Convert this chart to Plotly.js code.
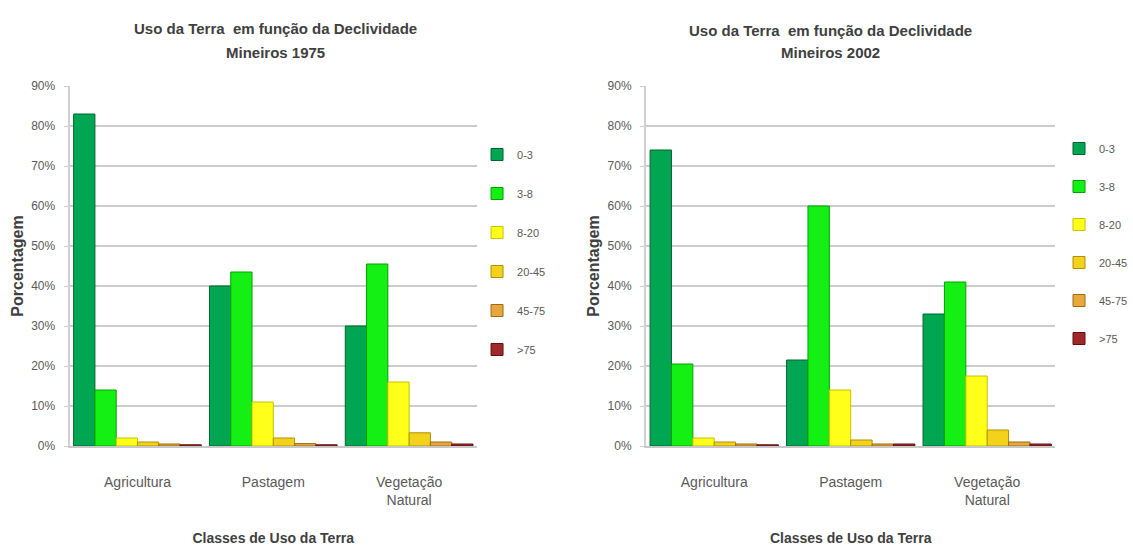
<!DOCTYPE html>
<html>
<head>
<meta charset="utf-8">
<script src="https://cdn.plot.ly/plotly-3.0.1.min.js"></script>
<style>html,body{margin:0;padding:0;background:#fff;}#chart{width:1133px;height:546px;}</style>
</head>
<body>
<div id="chart"></div>
<script>
// Categories and tick labels
const categories = ['Agricultura', 'Pastagem', 'Vegetação Natural'];
const tickLabels = ['Agricultura', 'Pastagem', 'Vegetação<br>Natural'];
const slopeClasses = ['0-3', '3-8', '8-20', '20-45', '45-75', '>75'];
const yTicks = [0, 10, 20, 30, 40, 50, 60, 70, 80, 90];
const yTickLabels = ['0%', '10%', '20%', '30%', '40%', '50%', '60%', '70%', '80%', '90%'];

// Mineiros 1975 (percent), one array per slope class, ordered as categories
const v1975_0_3   = [83, 40, 30];
const v1975_3_8   = [14, 43.5, 45.5];
const v1975_8_20  = [2, 11, 16];
const v1975_20_45 = [1, 2, 3.3];
const v1975_45_75 = [0.5, 0.6, 1];
const v1975_gt75  = [0.3, 0.3, 0.5];

// Mineiros 2002 (percent)
const v2002_0_3   = [74, 21.5, 33];
const v2002_3_8   = [20.5, 60, 41];
const v2002_8_20  = [2, 14, 17.5];
const v2002_20_45 = [1, 1.5, 4];
const v2002_45_75 = [0.5, 0.5, 1];
const v2002_gt75  = [0.3, 0.5, 0.5];

const fills = ['#00A651', '#14F014', '#FFFF1A', '#F2D21A', '#E6A83C', '#A02828'];
const edges = ['#00652F', '#00A000', '#C8C000', '#B09000', '#A06A10', '#601010'];

const s1975 = [v1975_0_3, v1975_3_8, v1975_8_20, v1975_20_45, v1975_45_75, v1975_gt75];
const s2002 = [v2002_0_3, v2002_3_8, v2002_8_20, v2002_20_45, v2002_45_75, v2002_gt75];

const traces = [];
s1975.forEach((vals, i) => {
  traces.push({
    type: 'bar', x: categories, y: vals, name: slopeClasses[i],
    xaxis: 'x', yaxis: 'y', legend: 'legend', legendgroup: 'a' + i,
    marker: {color: fills[i], line: {color: edges[i], width: 1}},
    hovertemplate: '%{x}: %{y}%<extra>' + slopeClasses[i] + '</extra>'
  });
});
s2002.forEach((vals, i) => {
  traces.push({
    type: 'bar', x: categories, y: vals, name: slopeClasses[i],
    xaxis: 'x2', yaxis: 'y2', legend: 'legend2', legendgroup: 'b' + i,
    marker: {color: fills[i], line: {color: edges[i], width: 1}},
    hovertemplate: '%{x}: %{y}%<extra>' + slopeClasses[i] + '</extra>'
  });
});

const FAM = 'Liberation Sans, Arial, sans-serif';
const yTickFont = {family: FAM, size: 12, color: '#595959'};
const xTickFont = {family: FAM, size: 14, color: '#595959'};
const axTitleFont = {family: FAM, size: 14, color: '#404040', weight: 'bold'};
const yTitleFont = {family: FAM, size: 16, color: '#404040', weight: 'bold'};

function xax(domain, anchor) {
  return {
    domain: domain, anchor: anchor, type: 'category',
    tickvals: categories, ticktext: tickLabels,
    tickfont: xTickFont, showgrid: false, zeroline: false,
    showline: true, linecolor: '#c8c8c8', linewidth: 2,
    ticks: '', ticklabelstandoff: 22,
    title: {text: 'Classes de Uso da Terra', font: axTitleFont, standoff: 28}
  };
}
function yax(domain, anchor) {
  return {
    domain: domain, anchor: anchor, range: [0, 90],
    tickmode: 'array', tickvals: yTicks, ticktext: yTickLabels, tickfont: yTickFont,
    showgrid: true, gridcolor: '#cccccc', gridwidth: 2,
    zeroline: false, showline: true, linecolor: '#d0d0d0', linewidth: 2,
    ticks: 'outside', ticklen: 4, tickcolor: '#d0d0d0', ticklabelstandoff: 6,
    title: {text: 'Porcentagem', font: yTitleFont, standoff: 4}
  };
}

const legFont = {family: FAM, size: 11, color: '#595959'};
const yDom = [1 - 446 / 546, 1 - 86 / 546];
const titleFont = {family: FAM, size: 15, color: '#404040', weight: 'bold'};

function ann(text, x, y) {
  return {text: text, x: x / 1133, y: 1 - y / 546, xref: 'paper', yref: 'paper',
          xanchor: 'center', yanchor: 'middle', showarrow: false, font: titleFont};
}

const layout = {
  width: 1133, height: 546,
  margin: {l: 0, r: 0, t: 0, b: 0},
  paper_bgcolor: '#ffffff', plot_bgcolor: '#ffffff',
  barmode: 'group', bargap: 0.06, bargroupgap: 0,
  showlegend: true,
  xaxis: xax([70 / 1133, 480 / 1133], 'y'),
  yaxis: yax(yDom, 'x'),
  xaxis2: xax([650 / 1133, 1062 / 1133], 'y2'),
  yaxis2: yax(yDom, 'x2'),
  legend: {x: 480 / 1133, y: 1 - 140 / 546, xanchor: 'left', yanchor: 'top',
           font: legFont, tracegroupgap: 20, bgcolor: 'rgba(0,0,0,0)', itemwidth: 30},
  legend2: {x: 1066 / 1133, y: 1 - 134 / 546, xanchor: 'left', yanchor: 'top',
            font: legFont, tracegroupgap: 19, bgcolor: 'rgba(0,0,0,0)', itemwidth: 30},
  annotations: [
    ann('Uso da Terra  em função da Declividade', 277, 28),
    ann('Mineiros 1975', 277, 52),
    ann('Uso da Terra  em função da Declividade', 836, 30),
    ann('Mineiros 2002', 836, 53)
  ]
};

Plotly.newPlot('chart', traces, layout, {displayModeBar: false, staticPlot: true});
</script>
</body>
</html>
